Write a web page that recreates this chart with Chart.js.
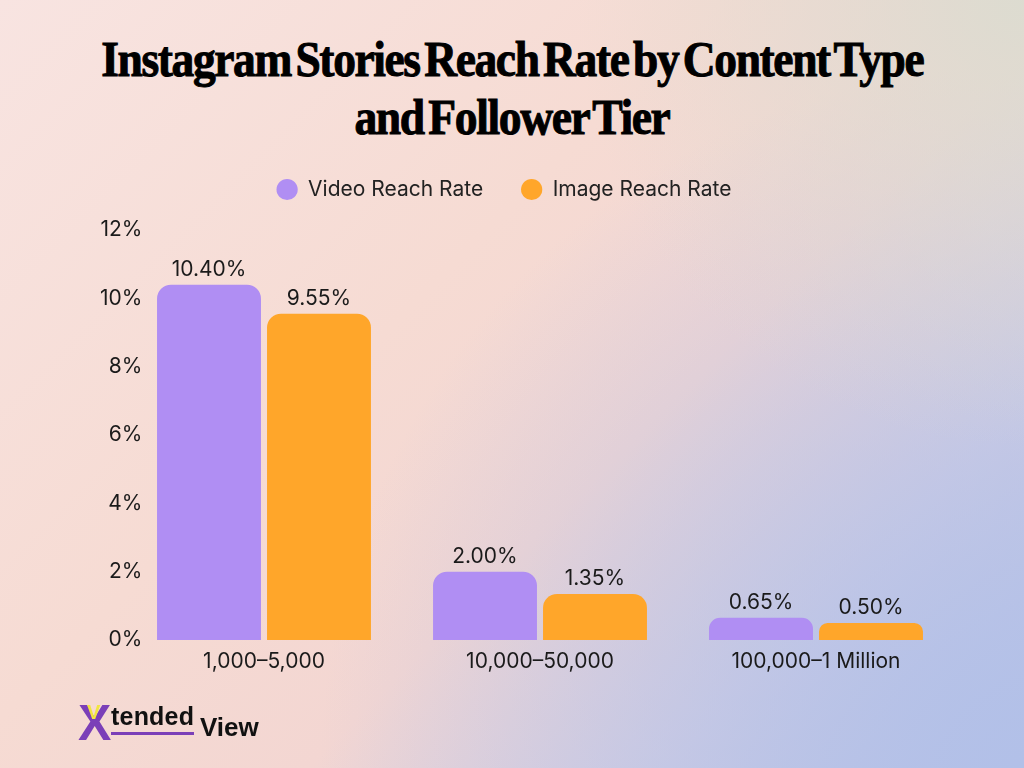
<!DOCTYPE html>
<html>
<head>
<meta charset="utf-8">
<script src="https://cdn.jsdelivr.net/npm/chart.js@4.4.0/dist/chart.umd.min.js"></script>
<style>
  html, body { margin: 0; padding: 0; }
  body {
    width: 1024px; height: 768px; position: relative; overflow: hidden;
    background:
      radial-gradient(circle at 100% 0%, rgba(218,220,208,0.9) 0%, rgba(218,220,208,0) 35%),
      radial-gradient(circle at 100% 100%, rgba(178,192,232,1) 0%, rgba(178,192,232,0) 55%),
      linear-gradient(135deg, #f8e4e1 0%, #f6dbd3 40%, #f3d6d2 60%, #d6cfe2 80%, #b9c3e6 100%);
    font-family: Inter, "Noto Sans", sans-serif;
  }
  #title {
    position: absolute; left: 0; top: 30px; width: 1024px; text-align: center;
    font-family: "Liberation Serif", "DejaVu Serif", serif; font-weight: 700;
    font-size: 50px; line-height: 58px; color: #000; letter-spacing: -1.5px; word-spacing: -6px;
    -webkit-text-stroke: 1px #000;
  }
  #title div { white-space: nowrap; }
  #title span { display: inline-block; transform-origin: center; }
  #chartWrap { position: absolute; left: 0; top: 0; width: 1024px; height: 768px; }
  #logo { position: absolute; left: 78px; top: 700px; height: 45px; font-family: "Liberation Sans", Arial, sans-serif; font-weight: 700; }
  #logo .x { position: absolute; left: 0; top: -2px; font-size: 50px; line-height: 50px; color: #7b3fb8; }
  #logo .y { position: absolute; left: 9px; top: 2px; font-size: 20px; line-height: 20px; color: #f2e640; }
  #logo .t { position: absolute; left: 33px; top: 3px; font-size: 25px; line-height: 26px; color: #111; border-bottom: 3px solid #7b3fb8; padding-bottom: 3px; letter-spacing: 0.2px; }
  #logo .v { position: absolute; left: 122px; top: 14px; font-size: 26px; line-height: 26px; color: #111; }
</style>
</head>
<body>
<div id="title">
  <div><span id="t1">Instagram Stories Reach Rate by Content Type</span></div>
  <div><span id="t2">and Follower Tier</span></div>
</div>
<div id="chartWrap"><canvas id="c" width="1024" height="768"></canvas></div>
<div id="logo"><span class="x">X</span><span class="y">V</span><span class="t">tended</span><span class="v">View</span></div>
<script>
const categories = ["1,000\u20135,000", "10,000\u201350,000", "100,000\u20131 Million"];
const videoReach = [10.40, 2.00, 0.65];
const imageReach = [9.55, 1.35, 0.50];
const yTicks = [0, 2, 4, 6, 8, 10, 12];

const FONT = 'Inter, "Noto Sans", sans-serif';

// fit title lines to reference widths
function fitLine(id, target) {
  const el = document.getElementById(id);
  const w = el.getBoundingClientRect().width;
  el.style.transform = 'scaleX(' + (target / w) + ')';
}
fitLine('t1', 822);
fitLine('t2', 315);

const valueLabels = {
  id: 'valueLabels',
  afterDatasetsDraw(chart) {
    const ctx = chart.ctx;
    ctx.save();
    ctx.font = '21px ' + FONT;
    ctx.fillStyle = '#1a1a1a';
    ctx.textAlign = 'center';
    ctx.textBaseline = 'middle';
    chart.data.datasets.forEach((ds, i) => {
      chart.getDatasetMeta(i).data.forEach((bar, j) => {
        ctx.fillText(ds.data[j].toFixed(2) + '%', bar.x, bar.y - 15);
      });
    });
    ctx.restore();
  }
};

const legendSpacer = {
  id: 'legendSpacer',
  beforeUpdate(chart) {
    const lg = chart.legend;
    if (lg && !lg._patched) {
      const orig = lg.fit;
      lg.fit = function () { orig.call(this); this.height = 89; };
      lg._patched = true;
    }
  }
};

new Chart(document.getElementById('c'), {
  type: 'bar',
  data: {
    labels: categories,
    datasets: [
      { label: 'Video Reach Rate', data: videoReach, backgroundColor: '#b08ef3', borderRadius: 14, borderSkipped: 'bottom' },
      { label: 'Image Reach Rate', data: imageReach, backgroundColor: '#ffa62a', borderRadius: 14, borderSkipped: 'bottom' }
    ]
  },
  options: {
    responsive: false,
    animation: false,
    devicePixelRatio: 1,
    layout: { padding: { top: 141, right: 70, bottom: 88, left: 54 } },
    datasets: { bar: { categoryPercentage: 0.797, barPercentage: 0.945 } },
    plugins: {
      legend: {
        position: 'top',
        labels: {
          usePointStyle: true, pointStyle: 'circle', boxWidth: 23, boxHeight: 15,
          padding: 38,
          font: { family: FONT, size: 21 },
          color: '#222'
        }
      },
      tooltip: { enabled: false }
    },
    scales: {
      x: {
        grid: { display: false }, border: { display: false },
        ticks: { font: { family: FONT, size: 21 }, color: '#1a1a1a', padding: 1 },
        afterFit(s) { s.height = 40; }
      },
      y: {
        min: 0, max: 12,
        grid: { display: false }, border: { display: false },
        afterBuildTicks(s) { s.ticks = yTicks.map(v => ({ value: v })); },
        ticks: {
          font: { family: FONT, size: 21 }, color: '#1a1a1a',
          mirror: true, crossAlign: 'far', padding: -26,
          callback: v => v + '%'
        },
        afterFit(s) { s.width = 72; }
      }
    }
  },
  plugins: [valueLabels, legendSpacer]
});
</script>
</body>
</html>
